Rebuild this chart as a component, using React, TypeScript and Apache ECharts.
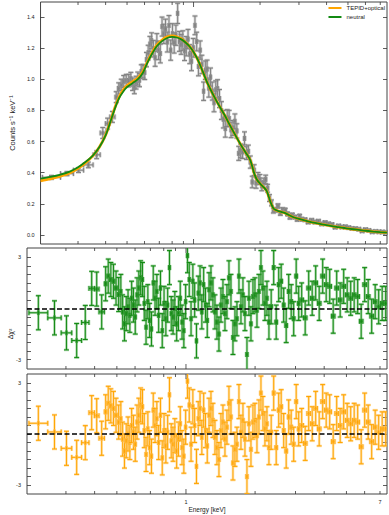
import React, { useEffect, useRef } from "react";
import * as echarts from "echarts";

// ---- bins (energy edges, keV) ----
const energyEdges = [
  0.207, 0.25, 0.286, 0.318, 0.351, 0.378, 0.399, 0.418, 0.441,
  0.4526, 0.4646, 0.4769, 0.4895, 0.5024, 0.5157,
  0.5251, 0.5347, 0.5444, 0.5543, 0.5644, 0.5747, 0.5852, 0.5958, 0.6067, 0.6178,
  0.629, 0.6405, 0.6521, 0.664, 0.6761, 0.6884, 0.701, 0.7137, 0.7267, 0.74,
  0.7535, 0.7672, 0.7812, 0.7954, 0.8099, 0.8247, 0.8397, 0.855, 0.8706, 0.8864,
  0.9026, 0.919, 0.9358, 0.9528, 0.9702, 0.9878, 1.0058, 1.0242, 1.0428, 1.0618,
  1.0812, 1.1009, 1.1209, 1.1413, 1.1621, 1.1833, 1.2049, 1.2268, 1.2492, 1.2719,
  1.2977, 1.324, 1.3508, 1.3782, 1.4061, 1.4346, 1.4637, 1.4933, 1.5236, 1.5544,
  1.5859, 1.6181, 1.6508, 1.6843, 1.7184, 1.7532, 1.7887, 1.825, 1.8619, 1.8997,
  1.9382, 1.9774, 2.0175, 2.0584, 2.1001, 2.1426, 2.186, 2.2303, 2.2755, 2.3216,
  2.3805, 2.441, 2.503, 2.5665, 2.6317, 2.6985, 2.767, 2.8373, 2.9093, 2.9832, 3.0589, 3.1366,
  3.2486, 3.3647, 3.4848, 3.6093, 3.7382, 3.8718, 4.0101, 4.1533, 4.3017, 4.4553,
  4.6144, 4.7793, 4.95, 5.1268, 5.3099, 5.4996, 5.696, 5.8995, 6.1102, 6.3285,
  6.5545, 6.7886, 7.0311, 7.2823, 7.5424,
];

// ---- observed count rate (counts s^-1 keV^-1) ----
const countRate = [
  0.370, 0.394, 0.416, 0.450, 0.515, 0.655, 0.715, 0.758,
  0.885, 0.941, 0.963, 0.986, 0.992, 0.991,
  1.004, 0.968, 0.948, 0.978, 1.004, 0.994, 1.050, 1.051, 1.043, 1.126,
  1.171, 1.226, 1.247, 1.196, 1.138, 1.236, 1.185, 1.165, 1.338, 1.291,
  1.323, 1.239, 1.345, 1.187, 1.292, 1.233, 1.283, 1.423, 1.243, 1.224,
  1.248, 1.183, 1.212, 1.258, 1.161, 1.116, 1.202, 1.346, 1.242, 1.082,
  1.187, 1.095, 0.923, 1.058, 1.065, 0.943, 1.014, 0.924, 0.849, 0.932,
  0.939, 0.876, 0.799, 0.743, 0.683, 0.751, 0.748, 0.675, 0.687, 0.730,
  0.668, 0.524, 0.540, 0.534, 0.620, 0.526, 0.537, 0.468, 0.340, 0.416,
  0.334, 0.368, 0.356, 0.315, 0.335, 0.357, 0.300, 0.237, 0.206, 0.157,
  0.161, 0.186, 0.140, 0.163, 0.159, 0.135, 0.114, 0.128, 0.115, 0.100, 0.121, 0.101,
  0.098, 0.083, 0.094, 0.083, 0.088, 0.071, 0.080, 0.072, 0.067, 0.050,
  0.058, 0.051, 0.053, 0.047, 0.042, 0.041, 0.037, 0.026, 0.035, 0.029,
  0.020, 0.023, 0.020, 0.019, 0.017,
];

const countErr = [
  0.012, 0.013, 0.015, 0.018, 0.025, 0.035, 0.035, 0.035,
  0.035, 0.036, 0.037, 0.038, 0.039, 0.040,
  0.040, 0.040, 0.041, 0.041, 0.042, 0.042, 0.043, 0.044, 0.045, 0.046,
  0.047, 0.049, 0.051, 0.053, 0.055, 0.057, 0.059, 0.060, 0.061, 0.062,
  0.063, 0.064, 0.064, 0.065, 0.065, 0.065, 0.065, 0.065, 0.064, 0.064,
  0.063, 0.063, 0.062, 0.062, 0.061, 0.061, 0.060, 0.060, 0.060, 0.060,
  0.059, 0.059, 0.059, 0.059, 0.058, 0.058, 0.058, 0.058, 0.058, 0.058,
  0.058, 0.058, 0.057, 0.056, 0.055, 0.054, 0.052, 0.050, 0.048, 0.047,
  0.046, 0.045, 0.044, 0.043, 0.042, 0.041, 0.040, 0.039, 0.037, 0.035,
  0.034, 0.033, 0.032, 0.031, 0.030, 0.027, 0.025, 0.022, 0.019, 0.016,
  0.014, 0.013, 0.013, 0.012, 0.012, 0.011, 0.011, 0.011, 0.010, 0.010, 0.010, 0.010,
  0.009, 0.009, 0.009, 0.009, 0.009, 0.008, 0.008, 0.008, 0.008, 0.008,
  0.007, 0.007, 0.007, 0.007, 0.007, 0.007, 0.007, 0.006, 0.006, 0.006,
  0.006, 0.006, 0.006, 0.006, 0.006,
];

// ---- residuals (delta chi) ----
const residNeutral = [
  -0.25, -0.55, -1.43, -1.88, -0.82, 1.18, 1.14, -0.2,
  1.45, 1.9, 1.7, 1.6, 1.2, 0.82,
  1.0, -0.2, -0.9, -0.3, 0.1, -0.4, 0.6, 0.2, -0.5, 0.8,
  1.2, 1.8, 1.7, 0.3, -1.1, 0.4, -0.7, -1.2, 1.5, 0.6,
  1.0, -0.4, 1.2, -1.3, 0.3, -0.6, 0.2, 2.4, -0.3, -0.5,
  0.0, -0.9, -0.3, 0.6, -0.8, -1.3, 0.4, 3.1, 1.7, -0.6,
  1.6, 0.5, -1.9, 0.9, 1.5, -0.2, 1.4, 0.2, -0.7, 1.1,
  1.5, 0.8, -0.2, -0.8, -1.5, 0.2, 0.7, -0.3, 0.4, 1.8,
  1.0, -1.7, -0.9, -0.6, 1.9, 0.1, 0.8, -0.3, -2.7, 0.6,
  -0.9, 0.7, 0.8, -0.1, 1.0, 2.4, 1.2, 0.3, 0.6, -0.8,
  0.1, 2.4, -0.8, 1.4, 1.6, 0.2, -1.0, 1.0, 0.4, -0.6, 1.9, 0.3,
  0.5, -0.55, 1.2, 0.6, 1.5, 0.3, 1.9, 1.4, 1.3, -0.45,
  1.2, 0.5, 1.3, 0.8, 0.6, 0.8, 0.7, -0.75, 1.4, 0.7,
  -0.45, 0.4, 0.1, 0.3, 0.3,
];

const residTepid = [
  0.63, 0.12, -0.84, -1.37, -0.51, 1.25, 1.07, -0.25,
  1.3, 1.8, 1.65, 1.5, 1.1, 0.7,
  0.9, -0.3, -1.0, -0.4, 0.0, -0.5, 0.5, 0.1, -0.6, 0.7,
  1.1, 1.7, 1.6, 0.2, -1.2, 0.3, -0.8, -1.3, 1.4, 0.5,
  0.9, -0.5, 1.1, -1.4, 0.2, -0.7, 0.1, 2.3, -0.4, -0.6,
  -0.1, -1.0, -0.3, 0.6, -0.8, -1.3, 0.4, 3.1, 1.7, -0.6,
  1.6, 0.5, -1.9, 0.9, 1.5, -0.2, 1.4, 0.2, -0.7, 1.1,
  1.5, 0.8, -0.2, -0.8, -1.5, 0.2, 0.7, -0.3, 0.4, 1.8,
  1.0, -1.7, -0.9, -0.6, 1.9, 0.1, 0.8, -0.3, -2.5, 0.6,
  -0.9, 0.7, 0.8, -0.1, 1.0, 2.4, 1.2, 0.3, 0.6, -0.8,
  0.1, 2.4, -0.8, 1.4, 1.6, 0.2, -1.0, 1.0, 0.4, -0.6, 1.9, 0.3,
  0.5, -0.55, 1.2, 0.6, 1.5, 0.3, 1.9, 1.4, 1.3, -0.45,
  1.2, 0.5, 1.3, 0.8, 0.6, 0.8, 0.7, -0.75, 1.4, 0.7,
  -0.45, 0.4, 0.1, 0.3, 0.3,
];

// ---- model curves ----
const modelEnergy = [
  0.203, 0.225, 0.25, 0.275, 0.3, 0.325, 0.35, 0.375, 0.4, 0.42,
  0.44, 0.46, 0.48, 0.5, 0.53, 0.56, 0.59, 0.62, 0.65, 0.68,
  0.72, 0.76, 0.8, 0.84, 0.88, 0.92, 0.96, 1.0, 1.05, 1.1,
  1.16, 1.23, 1.3, 1.38, 1.46, 1.55, 1.64, 1.72, 1.8, 1.84,
  1.88, 1.93, 2.0, 2.08, 2.14, 2.19, 2.24, 2.3, 2.36, 2.45,
  2.6, 2.8, 3.0, 3.3, 3.6, 4.0, 4.5, 5.0, 5.5, 6.0,
  6.5, 7.0, 7.51,
];
const modelNeutral = [
  0.362, 0.373, 0.388, 0.407, 0.435, 0.47, 0.51, 0.565, 0.64, 0.725,
  0.81, 0.878, 0.92, 0.95, 0.975, 1.0, 1.042, 1.11, 1.165, 1.21,
  1.245, 1.265, 1.272, 1.268, 1.256, 1.236, 1.21, 1.175, 1.12, 1.05,
  0.97, 0.898, 0.835, 0.772, 0.705, 0.638, 0.577, 0.53, 0.485, 0.445,
  0.397, 0.358, 0.33, 0.305, 0.285, 0.245, 0.205, 0.17, 0.16, 0.151,
  0.14, 0.117, 0.103, 0.088, 0.076, 0.063, 0.051, 0.041, 0.034, 0.027,
  0.022, 0.018, 0.015,
];
const modelTepid = [
  0.348, 0.36, 0.377, 0.398, 0.428, 0.465, 0.508, 0.565, 0.642, 0.727,
  0.815, 0.885, 0.93, 0.96, 0.985, 1.008, 1.05, 1.115, 1.172, 1.218,
  1.252, 1.272, 1.278, 1.273, 1.26, 1.238, 1.211, 1.175, 1.12, 1.05,
  0.97, 0.898, 0.835, 0.772, 0.705, 0.638, 0.577, 0.53, 0.485, 0.445,
  0.397, 0.358, 0.33, 0.305, 0.285, 0.245, 0.205, 0.17, 0.16, 0.151,
  0.14, 0.117, 0.103, 0.088, 0.076, 0.063, 0.051, 0.041, 0.034, 0.027,
  0.022, 0.018, 0.015,
];

// ---- ticks ----
const xTickValues = [0.3, 0.4, 0.5, 0.6, 0.7, 0.8, 0.9, 1, 2, 3, 4, 5, 6, 7];
const xTickLabels = [1, 7];
const topYTicks = [0, 0.2, 0.4, 0.6, 0.8, 1.0, 1.2, 1.4];
const resYTicks = [-3, -2.5, -2, -1.5, -1, -0.5, 0, 0.5, 1, 1.5, 2, 2.5, 3];
const resYLabels = [-3, 3];

const X_MIN = 0.203;
const X_MAX = 7.51;

const FONT = "'Liberation Sans', Arial, Helvetica, sans-serif";
const GRAY = "#808080";
const GRAY_HALO = "rgba(160,160,160,0.45)";
const GREEN = "#138a13";
const GREEN_HALO = "rgba(80,170,80,0.45)";
const ORANGE = "#ffa500";
const ORANGE_HALO = "rgba(255,200,110,0.55)";
const AXIS = "#333";

function binRows(values: number[], errs: number[] | null) {
  return values.map((v, i) => {
    const lo = energyEdges[i];
    const hi = energyEdges[i + 1];
    return [lo, hi, Math.sqrt(lo * hi), v, errs ? errs[i] : 1];
  });
}

function makeErrRender(core: string, halo: string, cap: number, mark: [number, number]) {
  return (params: any, api: any) => {
    const lo = api.value(0);
    const hi = api.value(1);
    const c = api.value(2);
    const v = api.value(3);
    const e = api.value(4);
    const pc = api.coord([c, v]);
    const pl = api.coord([lo, v]);
    const ph = api.coord([hi, v]);
    const pt = api.coord([c, v + e]);
    const pb = api.coord([c, v - e]);
    const segs = [
      [pl[0], pl[1], ph[0], ph[1]],
      [pt[0], pt[1], pb[0], pb[1]],
      [pl[0], pl[1] - cap, pl[0], pl[1] + cap],
      [ph[0], ph[1] - cap, ph[0], ph[1] + cap],
      [pt[0] - cap, pt[1], pt[0] + cap, pt[1]],
      [pb[0] - cap, pb[1], pb[0] + cap, pb[1]],
    ];
    const children: any[] = [];
    segs.forEach((s) =>
      children.push({
        type: "line",
        shape: { x1: s[0], y1: s[1], x2: s[2], y2: s[3] },
        style: { stroke: halo, lineWidth: 2.6 },
      })
    );
    segs.forEach((s) =>
      children.push({
        type: "line",
        shape: { x1: s[0], y1: s[1], x2: s[2], y2: s[3] },
        style: { stroke: core, lineWidth: 1 },
      })
    );
    children.push({
      type: "rect",
      shape: { x: pc[0] - mark[0] / 2, y: pc[1] - mark[1] / 2, width: mark[0], height: mark[1] },
      style: { fill: core, stroke: halo, lineWidth: 1, opacity: 0.85 },
    });
    return { type: "group", children };
  };
}

function makeTickRender(withLabels: boolean) {
  return (params: any, api: any) => {
    const cs = params.coordSys;
    const val = api.value(0);
    const x = api.coord([val, api.value(1)])[0];
    const len = val === 1 ? 5 : 3;
    const children: any[] = [
      { type: "line", shape: { x1: x, y1: cs.y, x2: x, y2: cs.y + len }, style: { stroke: AXIS, lineWidth: 0.8 } },
      {
        type: "line",
        shape: { x1: x, y1: cs.y + cs.height, x2: x, y2: cs.y + cs.height - len },
        style: { stroke: AXIS, lineWidth: 0.8 },
      },
    ];
    if (withLabels && xTickLabels.indexOf(val) >= 0) {
      children.push({
        type: "text",
        x: x,
        y: cs.y + cs.height + 5,
        style: {
          text: String(val),
          fontSize: 5.5,
          fontFamily: FONT,
          fill: "#222",
          align: "center",
          verticalAlign: "top",
        },
      });
    }
    return { type: "group", children };
  };
}

function xAxisFor(gridIndex: number, withName: boolean): any {
  return {
    gridIndex,
    type: "log",
    logBase: 10,
    min: X_MIN,
    max: X_MAX,
    axisLine: { show: false },
    axisTick: { show: false },
    axisLabel: { show: false },
    splitLine: { show: false },
    name: withName ? "Energy [keV]" : "",
    nameLocation: "middle",
    nameGap: 12,
    nameTextStyle: { fontSize: 6.5, fontFamily: FONT, color: "#222" },
  };
}

function yAxisFor(
  gridIndex: number,
  min: number,
  max: number,
  ticks: number[],
  labels: number[] | null,
  fmt: (v: number) => string,
  position: "left" | "right",
  name?: string
): any {
  return {
    gridIndex,
    type: "value",
    position,
    min,
    max,
    axisLine: { show: false },
    splitLine: { show: false },
    axisTick: {
      show: true,
      inside: true,
      length: 4,
      customValues: ticks,
      lineStyle: { color: AXIS, width: 0.8 },
    },
    axisLabel: labels
      ? {
          show: true,
          customValues: labels,
          formatter: (v: number) => fmt(v),
          fontSize: 5.5,
          fontFamily: FONT,
          color: "#222",
          margin: 6,
        }
      : { show: false },
    name: name || "",
    nameLocation: "middle",
    nameGap: 12,
    nameTextStyle: { fontSize: 7.5, fontFamily: FONT, color: "#222" },
  };
}

export default function App() {
  const ref = useRef<HTMLDivElement>(null);

  useEffect(() => {
    if (!ref.current) return;
    const chart = echarts.init(ref.current, undefined, { renderer: "svg" });

    const dataRows = binRows(countRate, countErr);
    const resN = binRows(residNeutral, null);
    const resT = binRows(residTepid, null);
    const tickRows = (y: number) => xTickValues.map((v) => [v, y]);

    const zeroLine = {
      silent: true,
      symbol: ["none", "none"],
      label: { show: false },
      lineStyle: { color: "#000", width: 1.6, type: [5, 2.5] },
      data: [{ yAxis: 0 }],
      animation: false,
    };

    const option: any = {
      animation: false,
      backgroundColor: "#fff",
      grid: [
        { left: 27, right: 2, top: 2, height: 242, show: true, borderColor: "#444", borderWidth: 1 },
        { left: 27, right: 2, top: 248, height: 121, show: true, borderColor: "#444", borderWidth: 1 },
        { left: 27, right: 2, top: 374, height: 120, show: true, borderColor: "#444", borderWidth: 1 },
      ],
      xAxis: [xAxisFor(0, false), xAxisFor(1, false), xAxisFor(2, true)],
      yAxis: [
        yAxisFor(0, -0.058, 1.496, topYTicks, topYTicks, (v) => v.toFixed(1), "left", "Counts s\u207B\u00B9 keV\u207B\u00B9"),
        yAxisFor(0, -0.058, 1.496, topYTicks, null, (v) => String(v), "right"),
        yAxisFor(1, -3.55, 3.55, resYTicks, resYLabels, (v) => String(v), "left"),
        yAxisFor(1, -3.55, 3.55, resYTicks, null, (v) => String(v), "right"),
        yAxisFor(2, -3.52, 3.52, resYTicks, resYLabels, (v) => String(v), "left"),
        yAxisFor(2, -3.52, 3.52, resYTicks, null, (v) => String(v), "right"),
      ],
      legend: {
        data: ["TEPID+optical", "neutral"],
        right: 4,
        top: 5,
        orient: "vertical",
        icon: "rect",
        itemWidth: 13,
        itemHeight: 2,
        itemGap: 3,
        padding: 0,
        textStyle: { fontSize: 6, fontFamily: FONT, color: "#222" },
      },
      graphic: [
        {
          type: "text",
          x: 10,
          y: 334,
          rotation: Math.PI / 2,
          style: {
            text: "\u0394\u03C7\u00B2",
            fontSize: 7,
            fontFamily: FONT,
            fill: "#222",
            align: "center",
            verticalAlign: "middle",
          },
        },
      ],
      series: [
        {
          type: "custom",
          name: "data",
          xAxisIndex: 0,
          yAxisIndex: 0,
          clip: true,
          z: 2,
          renderItem: makeErrRender(GRAY, GRAY_HALO, 2.5, [2.2, 4]),
          data: dataRows,
        },
        {
          type: "line",
          name: "TEPID+optical",
          xAxisIndex: 0,
          yAxisIndex: 0,
          showSymbol: false,
          smooth: 0.3,
          z: 3,
          color: ORANGE,
          lineStyle: { color: ORANGE, width: 2.8 },
          data: modelEnergy.map((e, i) => [e, modelTepid[i]]),
        },
        {
          type: "line",
          name: "neutral",
          xAxisIndex: 0,
          yAxisIndex: 0,
          showSymbol: false,
          smooth: 0.3,
          z: 4,
          color: GREEN,
          lineStyle: { color: GREEN, width: 1.8 },
          data: modelEnergy.map((e, i) => [e, modelNeutral[i]]),
        },
        {
          type: "custom",
          name: "resN",
          xAxisIndex: 1,
          yAxisIndex: 2,
          clip: true,
          z: 2,
          renderItem: makeErrRender(GREEN, GREEN_HALO, 2.5, [2.2, 4.5]),
          data: resN,
          markLine: zeroLine,
        },
        {
          type: "custom",
          name: "resT",
          xAxisIndex: 2,
          yAxisIndex: 4,
          clip: true,
          z: 2,
          renderItem: makeErrRender(ORANGE, ORANGE_HALO, 2.5, [2.2, 4.5]),
          data: resT,
          markLine: zeroLine,
        },
        {
          type: "custom",
          xAxisIndex: 0,
          yAxisIndex: 0,
          z: 6,
          silent: true,
          renderItem: makeTickRender(false),
          data: tickRows(0.5),
        },
        {
          type: "custom",
          xAxisIndex: 1,
          yAxisIndex: 2,
          z: 6,
          silent: true,
          renderItem: makeTickRender(false),
          data: tickRows(0),
        },
        {
          type: "custom",
          xAxisIndex: 2,
          yAxisIndex: 4,
          z: 6,
          silent: true,
          renderItem: makeTickRender(true),
          data: tickRows(0),
        },
      ],
    };

    chart.setOption(option);
    return () => chart.dispose();
  }, []);

  return (
    <div
      ref={ref}
      style={{ position: "fixed", left: 0, top: 0, width: 389, height: 515, background: "#fff" }}
    />
  );
}
